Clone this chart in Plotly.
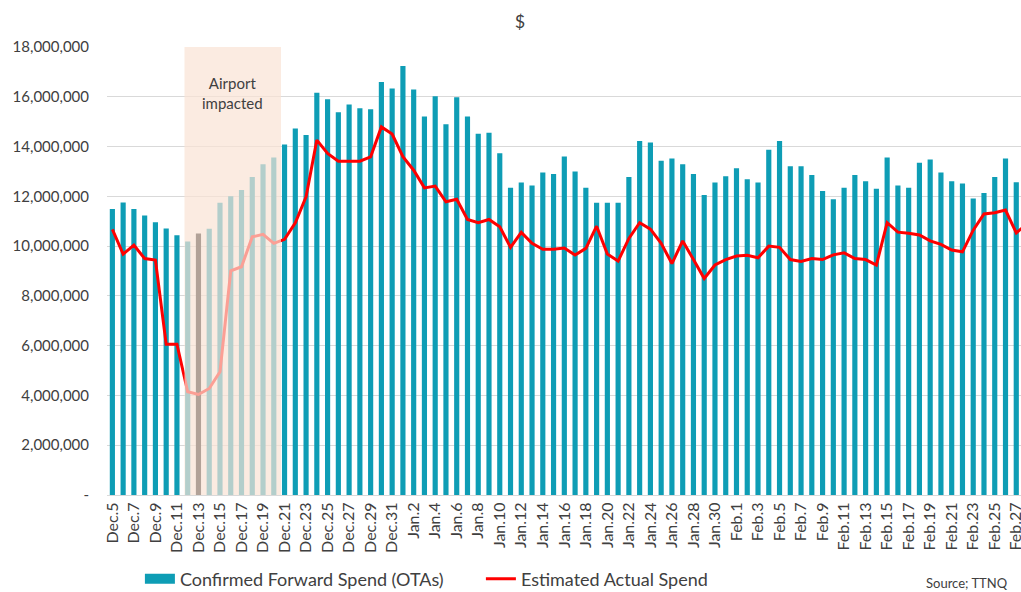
import plotly.graph_objects as go

# ---- data ----
dates = ([f"Dec.{d}" for d in range(5, 32)]
         + [f"Jan.{d}" for d in range(1, 32)]
         + [f"Feb.{d}" for d in range(1, 29)])

confirmed_forward = [
    11490000, 11750000, 11490000, 11230000, 10960000, 10710000, 10440000, 10190000, 10510000, 10700000,
    11740000, 12000000, 12250000, 12780000, 13290000, 13560000, 14080000, 14730000, 14460000, 16160000,
    15900000, 15380000, 15690000, 15540000, 15500000, 16590000, 16330000,
    17240000, 16290000, 15210000, 16020000, 14900000, 15980000, 15210000, 14510000, 14550000, 13730000,
    12340000, 12560000, 12440000, 12960000, 12900000, 13600000, 13000000, 12340000, 11740000, 11740000,
    11740000, 12780000, 14220000, 14160000, 13430000, 13520000, 13290000, 12900000, 12050000, 12560000,
    12810000,
    13130000, 12690000, 12560000, 13870000, 14220000, 13210000, 13210000, 12860000, 12210000, 11880000,
    12340000, 12860000, 12610000, 12300000, 13560000, 12440000, 12340000, 13350000, 13480000, 12960000,
    12610000, 12520000, 11910000, 12130000, 12780000, 13520000, 12570000,
    None,
]

estimated_actual = [
    10670000, 9680000, 10040000, 9500000, 9440000, 6060000, 6060000, 4150000, 4040000, 4280000,
    4950000, 9010000, 9170000, 10370000, 10470000, 10110000, 10270000, 10940000, 11980000, 14260000,
    13720000, 13410000, 13410000, 13410000, 13590000, 14790000, 14500000,
    13590000, 13050000, 12340000, 12410000, 11780000, 11880000, 11070000, 10940000, 11070000, 10780000,
    9950000, 10550000, 10110000, 9870000, 9870000, 9920000, 9640000, 9910000, 10800000, 9680000,
    9400000, 10310000, 10940000, 10680000, 10110000, 9300000, 10210000, 9460000, 8700000, 9240000,
    9460000,
    9600000, 9630000, 9530000, 10000000, 9950000, 9460000, 9380000, 9500000, 9460000, 9650000,
    9730000, 9500000, 9460000, 9240000, 10940000, 10560000, 10520000, 10450000, 10210000, 10070000,
    9840000, 9770000, 10640000, 11290000, 11340000, 11450000, 10530000, 10900000,
]

x_tick_labels = dates[0:85:2]
y_tick_values = [0, 2000000, 4000000, 6000000, 8000000, 10000000, 12000000, 14000000, 16000000, 18000000]
y_tick_labels = ["-", "2,000,000", "4,000,000", "6,000,000", "8,000,000", "10,000,000",
                 "12,000,000", "14,000,000", "16,000,000", "18,000,000"]

impact_start, impact_end = "Dec.12", "Dec.20"
highlight_day = "Dec.13"

TEAL = "#0E9DB5"
RED = "#FF0000"
TXT = "#404040"
FONT = "Lato"

W, H = 1021, 592

bar_colors = ["#0A0A0A" if d == highlight_day else TEAL for d in dates]

fig = go.Figure()
fig.add_trace(go.Bar(
    x=dates, y=confirmed_forward, marker=dict(color=bar_colors, line=dict(width=0)),
    name="Confirmed Forward Spend (OTAs)", showlegend=False,
))
# legend swatch (wide rectangle like the original)
fig.add_trace(go.Scatter(
    x=[None], y=[None], mode="lines", line=dict(color=TEAL, width=10),
    name="Confirmed Forward Spend (OTAs)" + "\u00a0" * 7,
))
fig.add_trace(go.Scatter(
    x=dates, y=estimated_actual, mode="lines", line=dict(color=RED, width=3),
    name="Estimated Actual Spend",
))

i0 = dates.index(impact_start)
i1 = dates.index(impact_end)
fig.add_shape(type="rect", xref="x", yref="y",
              x0=i0 - 0.3, x1=i1 + 0.67, y0=0, y1=18000000,
              fillcolor="rgba(249,226,212,0.7)", line=dict(width=0), layer="above")
fig.add_annotation(x=(i0 + i1) / 2 + 0.2, y=16150000, xref="x", yref="y",
                   text="Airport<br>impacted", showarrow=False,
                   font=dict(family=FONT, size=15, color=TXT))
fig.add_annotation(x=0.988, y=-0.196, xref="paper", yref="paper",
                   xanchor="right", yanchor="middle", text="Source; TTNQ",
                   showarrow=False, font=dict(family=FONT, size=13, color=TXT))

fig.update_layout(
    width=W, height=H,
    margin=dict(l=107, r=0, t=47, b=97, autoexpand=False),
    paper_bgcolor="white", plot_bgcolor="white",
    font=dict(family=FONT, color=TXT),
    title=dict(text="$", x=520 / W, xref="container", xanchor="center",
               y=1 - 22 / H, yanchor="middle",
               font=dict(family=FONT, size=18, color=TXT)),
    bargap=0.52,
    legend=dict(orientation="h", x=0.036, y=-0.1875, xanchor="left", yanchor="middle",
                font=dict(family=FONT, size=18, color=TXT), bgcolor="rgba(0,0,0,0)"),
    xaxis=dict(type="category", range=[-0.5, 84.44], tickmode="array",
               tickvals=x_tick_labels, ticktext=x_tick_labels, tickangle=-90,
               tickfont=dict(family=FONT, size=16, color=TXT), showgrid=False,
               showline=True, linecolor="#D9D9D9", linewidth=1, ticks="",
               automargin=False),
    yaxis=dict(range=[0, 18000000], tickmode="array", tickvals=y_tick_values,
               ticktext=y_tick_labels, tickfont=dict(family=FONT, size=15, color=TXT),
               showgrid=True, gridcolor="#D9D9D9", gridwidth=1, zeroline=False,
               ticks="", ticklabelstandoff=17, automargin=False),
)

# remove the browser's default 8px body margin so the figure fills the window exactly
fig.write_html("out.html", config={"displayModeBar": False},
               post_script="document.body.style.margin='0';document.body.style.overflow='hidden';")
